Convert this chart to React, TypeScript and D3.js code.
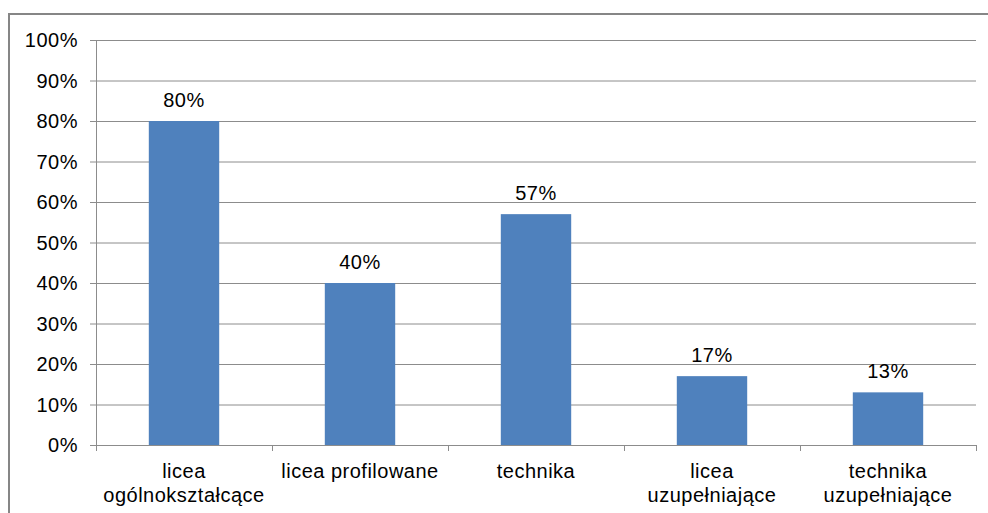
import React from "react";
import * as d3 from "d3";

const categories = [
  ["licea", "ogólnokształcące"],
  ["licea profilowane"],
  ["technika"],
  ["licea", "uzupełniające"],
  ["technika", "uzupełniające"],
];
const values = [80, 40, 57, 17, 13];
const yTicks = [0, 10, 20, 30, 40, 50, 60, 70, 80, 90, 100];

export default function App() {
  const W = 988, H = 513;
  const left = 96, right = 976, top = 40, bottom = 445;
  const x = d3.scaleBand<number>().domain(d3.range(values.length)).range([left, right]).paddingInner(0.6).paddingOuter(0.3);
  const xb = d3.scaleLinear().domain([0, values.length]).range([left, right]);
  const y = d3.scaleLinear().domain([0, 100]).range([bottom, top]);
  const font = "'Liberation Sans', Arial, sans-serif";
  const fs = 20;
  const ls = 0.5;
  return (
    <svg width={W} height={H} style={{ position: "absolute", left: 0, top: 0, background: "#fff" }}>
      <rect x={9} y={14} width={W + 20} height={H + 20} fill="#fff" stroke="#868686" strokeWidth={2} />
      {yTicks.map((t) => (
        <g key={t}>
          <line x1={left - 6} x2={right} y1={y(t) + 0.5} y2={y(t) + 0.5} stroke="#8c8c8c" strokeWidth={1} />
          <text x={78} y={y(t)} dy="0.35em" textAnchor="end" fontFamily={font} fontSize={fs} letterSpacing={ls} fill="#000">{t}%</text>
        </g>
      ))}
      <line x1={left + 0.5} x2={left + 0.5} y1={top} y2={bottom + 6} stroke="#8c8c8c" />
      {d3.range(values.length + 1).map((i) => (
        <line key={i} x1={xb(i) + 0.5} x2={xb(i) + 0.5} y1={bottom} y2={bottom + 6} stroke="#8c8c8c" />
      ))}
      {values.map((v, i) => (
        <g key={i}>
          <rect x={x(i)} y={y(v)} width={x.bandwidth()} height={bottom - y(v)} fill="#4F81BD" />
          <text x={(x(i) as number) + x.bandwidth() / 2} y={y(v) - 14} textAnchor="middle" fontFamily={font} fontSize={fs} letterSpacing={ls} fill="#000">{v}%</text>
          {categories[i].map((line, j) => (
            <text key={j} x={(x(i) as number) + x.bandwidth() / 2} y={478 + j * 24} textAnchor="middle" fontFamily={font} fontSize={fs} letterSpacing={ls} fill="#000">{line}</text>
          ))}
        </g>
      ))}
    </svg>
  );
}
